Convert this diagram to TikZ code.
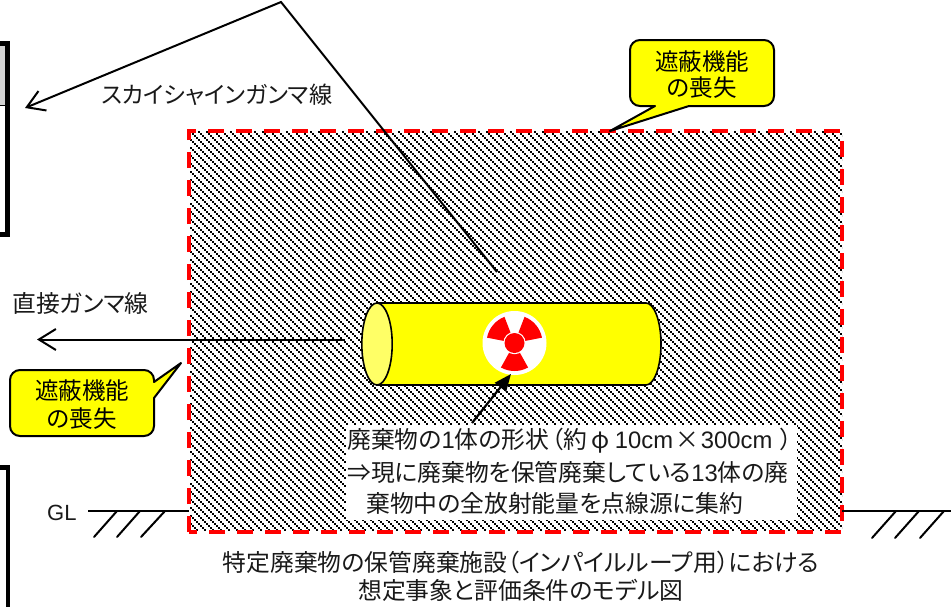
\documentclass[tikz,border=0pt]{standalone}
\usepackage{fontspec}
\usetikzlibrary{arrows.meta}
\setmainfont[RawFeature={+palt}]{Noto Sans CJK JP}
\newfontfamily\lat{Liberation Sans}
\newfontfamily\fw{Noto Sans CJK JP}
\definecolor{ylw}{HTML}{FFFF00}
\definecolor{lylw}{HTML}{FFFF66}
\definecolor{redd}{HTML}{FF0000}
\tikzset{
  lab/.style={inner sep=0pt,font=\fontsize{23.8}{26}\selectfont,text=black!90},
  call/.style={draw=black,line width=2pt,fill=ylw,line join=round},
  calltxt/.style={inner sep=0pt,font=\fontsize{23.5}{26}\selectfont},
  wire/.style={draw=black,line width=2pt},
  tick/.style={draw=black,line width=2pt,line cap=round},
  openhead/.style={-{Straight Barb[length=17pt,width=21pt,line width=2pt]}},
}
\begin{document}
\begin{tikzpicture}[x=1pt,y=-1pt]
\useasboundingbox (0,0) rectangle (951,606);
% left building fragments
\fill[black!18] (-3,44) rectangle (6,105);
\draw[black,line width=.8pt] (-3,105) -- (7,105);
\draw[black,line width=4.5pt] (-3,43.5) -- (7.5,43.5) -- (7.5,234.5) -- (-3,234.5);
\draw[black,line width=4.5pt] (-3,467.5) -- (8,467.5) -- (8,610);
% hatched shield: staircase of 2px squares, one dashed row per 2px
\foreach \r in {0,...,199}{
  \pgfmathtruncatemacro{\ph}{8-mod(2*\r,8)}
  \pgfmathtruncatemacro{\yy}{132+2*\r}
  \draw[black,line width=2pt,dash pattern=on 2pt off 6pt,dash phase=\ph pt] (190,\yy) -- (842,\yy);
}
\draw[redd,line width=3.4pt,dash pattern=on 16pt off 12pt,line join=miter] (189,532) -- (189,131) -- (842,131) -- (842,532) -- cycle;
% skyshine ray
\coordinate (skyS) at (497,272);
\coordinate (skyA) at (281,2);
\coordinate (skyT) at (25,108);
\draw[wire,openhead] (skyS) -- (skyA) -- (skyT);
% direct ray
\coordinate (dirS) at (345,339.5);
\coordinate (dirT) at (37,339.5);
\draw[wire,openhead] (dirS) -- (dirT);
% cylinder
\draw[fill=ylw,line width=1.6pt] (377,303) -- (646,303) arc[start angle=-90,end angle=90,x radius=15,y radius=41] -- (377,385) -- cycle;
\draw[fill=lylw,line width=1.6pt] (377,344) ellipse[x radius=15.2,y radius=41];
% trefoil
\coordinate (sym) at (514.5,343);
\fill[white] (sym) circle[radius=32];
\fill[redd] (sym) -- ++(-111:28) arc[start angle=-111,end angle=-169,radius=28] -- cycle;
\fill[redd] (sym) -- ++(-11:28) arc[start angle=-11,end angle=-69,radius=28] -- cycle;
\fill[redd] (sym) -- ++(61:28) arc[start angle=61,end angle=119,radius=28] -- cycle;
\fill[white] (sym) circle[radius=11.2];
\fill[redd] (sym) circle[radius=10];
% white text panel
\fill[white] (346,425) rectangle (797,520);
% pointer
\coordinate (ptrS) at (472,423);
\coordinate (ptrT) at (511,374);
\draw[line width=2.2pt,-{Triangle[length=17pt,width=14pt]}] (ptrS) -- (ptrT);
% panel text
\node[lab,anchor=west] (l1) at (347,441) {廃棄物の{\lat 1}体の形状\hspace{2pt}（約\hspace{5pt}{\fw φ}\hspace{5pt}{\lat 10cm}\hspace{2pt}×\hspace{2pt}{\lat 300cm}\hspace{8pt}）};
\node[lab,anchor=west] (l2) at (347,472) {⇒現に廃棄物を保管廃棄している{\lat 13}体の廃};
\node[lab,anchor=west] (l3) at (366,503) {棄物中の全放射能量を点線源に集約};
% ray labels
\node[lab,anchor=west,font=\fontsize{23.2}{26}\selectfont] (sky) at (101,95) {スカイシャインガンマ線};
\node[lab,anchor=west] (dir) at (12,303) {直接ガンマ線};
% callouts
\draw[call] (640,40) -- (764,40) arc[start angle=-90,end angle=0,radius=10] -- (774,96) arc[start angle=0,end angle=90,radius=10] -- (689,106) -- (610,131) -- (655,106) -- (640,106) arc[start angle=90,end angle=180,radius=10] -- (630,50) arc[start angle=180,end angle=270,radius=10] -- cycle;
\node[calltxt] (c1a) at (702,62) {遮蔽機能};
\node[calltxt] (c1b) at (702,88) {の喪失};
\draw[call] (20,370) -- (144,370) arc[start angle=-90,end angle=0,radius=10] -- (154,382) -- (181,363) -- (154,398) -- (154,426) arc[start angle=0,end angle=90,radius=10] -- (20,436) arc[start angle=90,end angle=180,radius=10] -- (10,380) arc[start angle=180,end angle=270,radius=10] -- cycle;
\node[calltxt] (c2a) at (82,391) {遮蔽機能};
\node[calltxt] (c2b) at (82,419) {の喪失};
% ground
\node[lab,anchor=west,font=\lat\fontsize{22}{26}\selectfont] (gl) at (47,513) {GL};
\coordinate (gA) at (88,511);
\coordinate (gB) at (189,511);
\coordinate (gC) at (842,510.5);
\coordinate (gD) at (951,510.5);
\draw[wire] (gA) -- (gB);
\draw[wire] (gC) -- (gD);
\draw[tick] (117,511) -- (94,537);
\draw[tick] (140,511) -- (117,537);
\draw[tick] (165,511) -- (141,537);
\draw[tick] (896,511) -- (872,538);
\draw[tick] (919,511) -- (895,538);
\draw[tick] (944,511) -- (920,538);
% caption
\node[lab] (t1) at (521,562) {特定廃棄物の保管廃棄施設（インパイルループ用）における};
\node[lab] (t2) at (521,590) {想定事象と評価条件のモデル図};
\end{tikzpicture}
\end{document}
